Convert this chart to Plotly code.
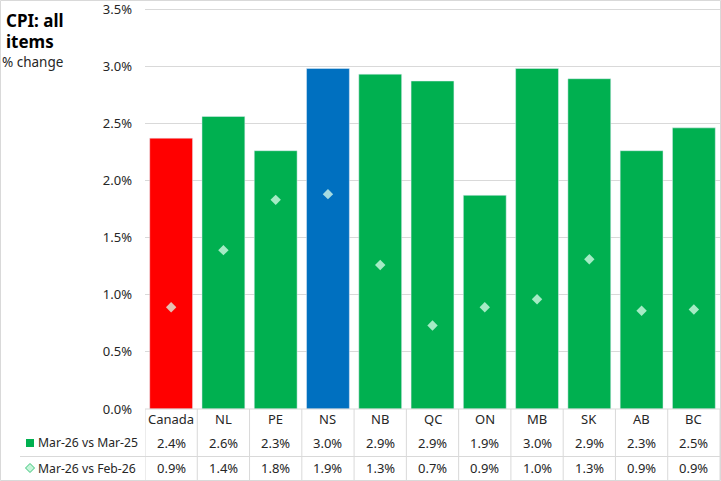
import plotly.graph_objects as go

categories = ["Canada", "NL", "PE", "NS", "NB", "QC", "ON", "MB", "SK", "AB", "BC"]
yoy = [2.37, 2.56, 2.26, 2.98, 2.93, 2.87, 1.87, 2.98, 2.89, 2.26, 2.46]
mom = [0.89, 1.39, 1.83, 1.88, 1.26, 0.73, 0.89, 0.96, 1.31, 0.86, 0.87]
series_names = ["Mar-26 vs Mar-25", "Mar-26 vs Feb-26"]
y_ticks = [0, 0.5, 1.0, 1.5, 2.0, 2.5, 3.0, 3.5]

GREEN = "#00B050"
RED = "#FF0000"
BLUE = "#0070C0"
bar_colors = [RED if c == "Canada" else BLUE if c == "NS" else GREEN for c in categories]

W, H = 721, 481
L, R, T, B = 145, 1, 6, 72
PW, PH = W - L - R, H - T - B
Y_TOP = 3.5 * PH / 400.0  # 3.5% sits 400px above the baseline

def px(p):
    return (p - L) / PW

def py(p):
    return (H - B - p) / PH

FONT = "Noto Sans"
TXT = "#262626"

fig = go.Figure()
fig.add_trace(go.Bar(x=categories, y=yoy, marker_color=bar_colors, name=series_names[0],
                     showlegend=False))
fig.add_trace(go.Scatter(x=categories, y=mom, mode="markers", name=series_names[1],
                         marker=dict(symbol="diamond", size=8, color="rgba(220,255,236,0.75)",
                                     line=dict(width=0)), showlegend=False))

ann = []
shapes = []
n = len(categories)
row_y = [py(419), py(443), py(468)]
for i, c in enumerate(categories):
    ann.append(dict(x=c, y=row_y[0], xref="x", yref="paper", text=c, showarrow=False,
                    font=dict(size=13, color=TXT, family=FONT), yanchor="middle"))
    ann.append(dict(x=c, y=row_y[1], xref="x", yref="paper", text=f"{yoy[i]:.1f}%", showarrow=False,
                    font=dict(size=13, color=TXT, family=FONT), yanchor="middle"))
    ann.append(dict(x=c, y=row_y[2], xref="x", yref="paper", text=f"{mom[i]:.1f}%", showarrow=False,
                    font=dict(size=13, color=TXT, family=FONT), yanchor="middle"))

# legend rows in table
ann.append(dict(x=px(36), y=row_y[1], xref="paper", yref="paper", text=series_names[0], showarrow=False,
                xanchor="left", font=dict(size=12.2, color=TXT, family=FONT), yanchor="middle"))
ann.append(dict(x=px(36), y=row_y[2], xref="paper", yref="paper", text=series_names[1], showarrow=False,
                xanchor="left", font=dict(size=12.2, color=TXT, family=FONT), yanchor="middle"))
shapes.append(dict(type="rect", xref="paper", yref="paper", x0=px(26), x1=px(34),
                   y0=py(447), y1=py(439), fillcolor=GREEN, line=dict(width=0)))
cx, cy, r = 30, 468, 4.5
shapes.append(dict(type="path", xref="paper", yref="paper",
                   path=f"M {px(cx-r)} {py(cy)} L {px(cx)} {py(cy-r)} L {px(cx+r)} {py(cy)} L {px(cx)} {py(cy+r)} Z",
                   fillcolor="#C6F5DA", line=dict(color="#3CC47A", width=1)))

GRID = "#D9D9D9"
# table lines
for i in range(n + 1):
    shapes.append(dict(type="line", xref="x", yref="paper", x0=i - 0.5, x1=i - 0.5,
                       y0=py(409), y1=py(480), line=dict(color=GRID, width=1)))
shapes.append(dict(type="line", xref="paper", yref="paper", x0=px(20), x1=1,
                   y0=py(456.5), y1=py(456.5), line=dict(color=GRID, width=1)))
shapes.append(dict(type="line", xref="paper", yref="paper", x0=0, x1=1,
                   y0=0, y1=0, line=dict(color=GRID, width=1)))
# outer chart border
shapes.append(dict(type="rect", xref="paper", yref="paper", x0=px(0.5), x1=px(720.5),
                   y0=py(480.5), y1=py(0.5), line=dict(color=GRID, width=1), fillcolor="rgba(0,0,0,0)"))

# titles
ann.append(dict(x=px(4), y=py(20), xref="paper", yref="paper", text="<b>CPI: all</b>", showarrow=False,
                xanchor="left", yanchor="middle", font=dict(size=17, color="#000000", family=FONT)))
ann.append(dict(x=px(4), y=py(41), xref="paper", yref="paper", text="<b>items</b>", showarrow=False,
                xanchor="left", yanchor="middle", font=dict(size=17, color="#000000", family=FONT)))
ann.append(dict(x=px(0), y=py(62), xref="paper", yref="paper", text="% change", showarrow=False,
                xanchor="left", yanchor="middle", font=dict(size=13.5, color=TXT, family=FONT)))

fig.update_layout(
    width=W, height=H,
    margin=dict(l=L, r=R, t=T, b=B),
    paper_bgcolor="white", plot_bgcolor="white",
    bargap=0.18,
    annotations=ann, shapes=shapes,
    font=dict(family=FONT, color=TXT),
)
fig.update_xaxes(range=[-0.5, n - 0.5], showticklabels=False, showgrid=False, zeroline=False,
                 showline=False, ticks="")
fig.update_yaxes(range=[0, Y_TOP], tickvals=y_ticks, ticktext=[f"{v:.1f}%" for v in y_ticks],
                 showgrid=True, gridcolor=GRID, gridwidth=1, zeroline=False, showline=False,
                 tickfont=dict(size=13, color=TXT, family=FONT), ticks="", ticklabelstandoff=12,
                 ticklabeloverflow="allow")

fig.write_html("out.html", config={"displayModeBar": False},
               post_script="document.body.style.margin='0';document.body.style.overflow='hidden';")
